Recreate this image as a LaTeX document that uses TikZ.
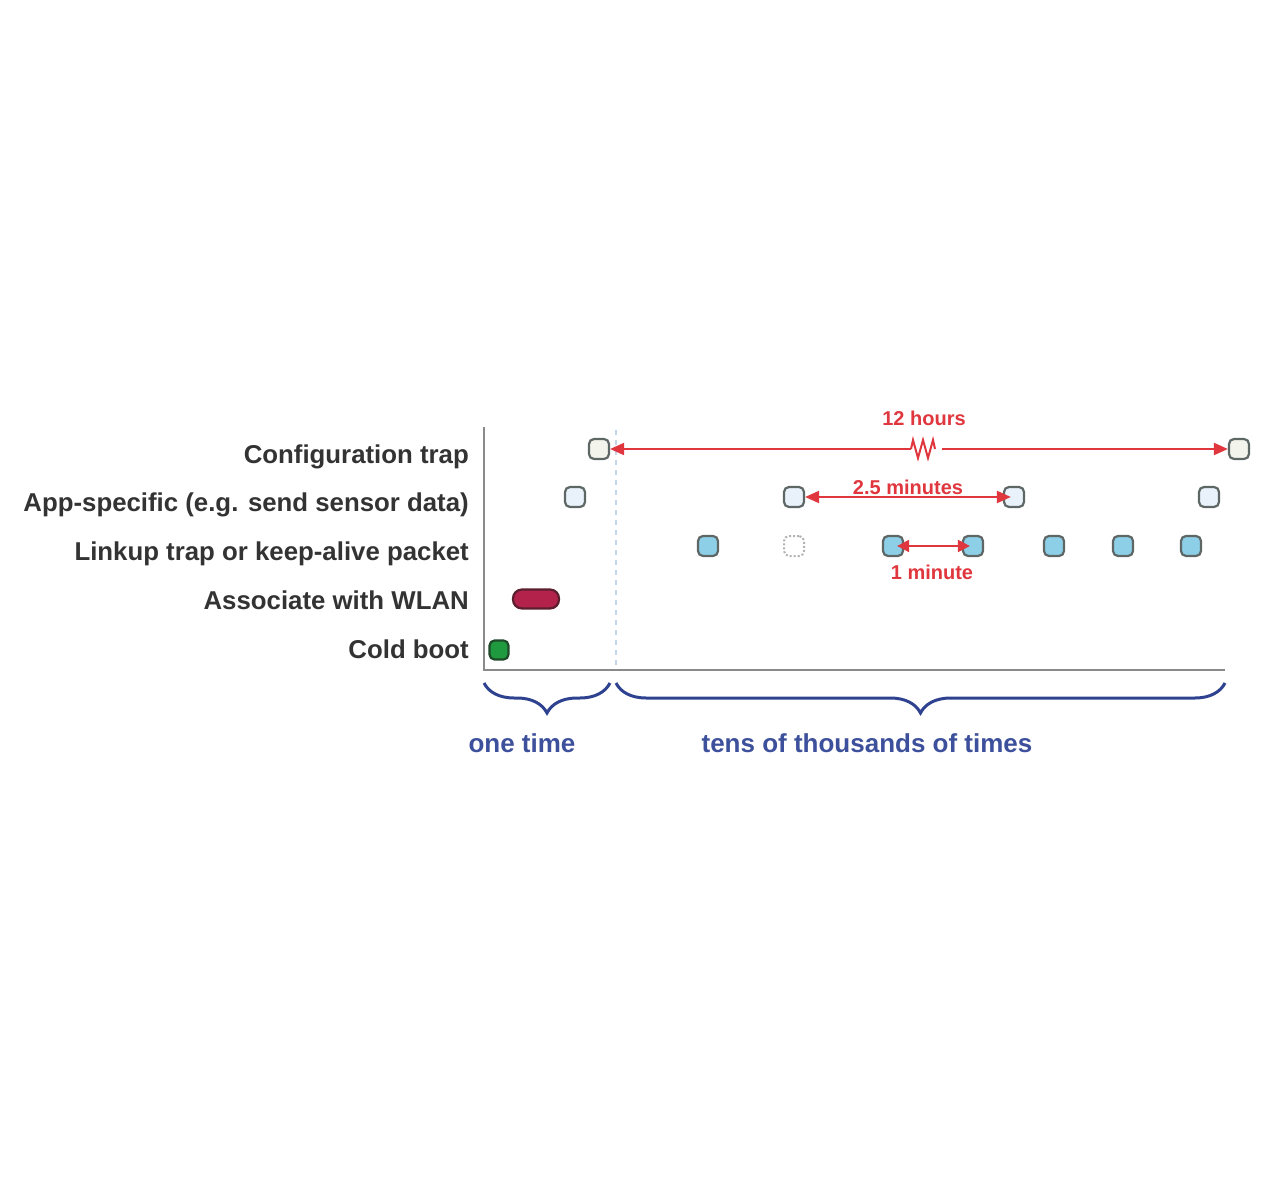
\documentclass[tikz,border=0pt]{standalone}
\usepackage{fontspec}
\setmainfont{Liberation Sans}
\usetikzlibrary{arrows.meta,decorations.pathreplacing}
\definecolor{boxgray}{HTML}{5E6666}
\definecolor{cfgfill}{HTML}{F3F5EC}
\definecolor{appfill}{HTML}{E9F1FA}
\definecolor{linkfill}{HTML}{8CCFE6}
\definecolor{assocfill}{HTML}{B3224A}
\definecolor{assocdraw}{HTML}{5A1E2E}
\definecolor{bootfill}{HTML}{1F9A3F}
\definecolor{bootdraw}{HTML}{1E4A2A}
\definecolor{arrred}{HTML}{E0363E}
\definecolor{lblgray}{HTML}{333333}
\definecolor{braceblue}{HTML}{2E4290}
\definecolor{txtblue}{HTML}{3D509C}
\definecolor{axisgray}{HTML}{8A8A8A}
\definecolor{dashblue}{HTML}{C4D6EA}
\begin{document}
\begin{tikzpicture}[x=1pt,y=-1pt,
  evt/.style={draw=boxgray, line width=2.2pt, rounded corners=5pt, minimum width=20pt, minimum height=20pt, inner sep=0pt},
  cfg/.style={evt, fill=cfgfill},
  app/.style={evt, fill=appfill},
  lnk/.style={evt, fill=linkfill},
  ghost/.style={draw=gray!60, dotted, line width=2pt, rounded corners=5pt, minimum width=20pt, minimum height=20pt, inner sep=0pt},
  rowlabel/.style={anchor=base east, text=lblgray, font=\bfseries\fontsize{25.8}{28}\selectfont, inner sep=0pt},
  redlabel/.style={text=arrred, font=\bfseries\fontsize{20}{23}\selectfont, inner sep=0pt},
  bluelabel/.style={text=txtblue, font=\bfseries\fontsize{26}{28}\selectfont, inner sep=0pt},
  redarr/.style={draw=arrred, line width=2pt},
  bracestyle/.style={draw=braceblue, line width=3pt, decorate, decoration={brace,mirror,amplitude=30pt}},
]
\useasboundingbox (0,0) rectangle (1280,1190);

% row labels
\node[rowlabel] (lcfg) at (469,463) {Configuration trap};
\node[rowlabel] (lapp) at (469,511) {App-specific (e.g. send sensor data)};
\node[rowlabel] (llnk) at (469,560) {Linkup trap or keep-alive packet};
\node[rowlabel] (lasc) at (469,609) {Associate with WLAN};
\node[rowlabel] (lbot) at (469,658) {Cold boot};

% axes and separator
\coordinate (ytop) at (484,427);
\coordinate (orig) at (484,670);
\coordinate (xend) at (1225,670);
\draw[axisgray, line width=2.5pt] (ytop) -- (orig) -- (xend);
\coordinate (sepT) at (616,430);
\coordinate (sepB) at (616,666);
\draw[dashblue, line width=1.5pt, dash pattern=on 5pt off 5pt] (sepT) -- (sepB);

% events
\node[cfg] (C1) at (599,449) {};
\node[cfg] (C2) at (1239,449) {};
\node[app] (A1) at (575,497) {};
\node[app] (A2) at (794,497) {};
\node[app] (A3) at (1014,497) {};
\node[app] (A4) at (1209,497) {};
\node[lnk] (L1) at (708,546) {};
\node[ghost] (L2) at (794,546) {};
\node[lnk] (L3) at (893,546) {};
\node[lnk] (L4) at (973,546) {};
\node[lnk] (L5) at (1054,546) {};
\node[lnk] (L6) at (1123,546) {};
\node[lnk] (L7) at (1191,546) {};
\node[draw=assocdraw, fill=assocfill, line width=2.2pt, rounded corners=9pt, minimum width=46pt, minimum height=19pt, inner sep=0pt] (W) at (536,599) {};
\node[draw=bootdraw, fill=bootfill, line width=2.2pt, rounded corners=5pt, minimum width=19pt, minimum height=19pt, inner sep=0pt] (B) at (499,650) {};

% 12 hours
\coordinate (bkL) at (911,449);
\coordinate (bkR) at (942,449);
\draw[redarr, {Triangle[length=14pt,width=12pt]}-] (C1.east) -- (bkL);
\draw[redarr, line join=miter] (bkL) -- ++(2,-9) -- ++(5,18) -- ++(5,-18) -- ++(5,18) -- ++(5,-18) -- ++(2,9);
\draw[redarr, -{Triangle[length=14pt,width=12pt]}] (bkR) -- (C2.west);
\node[redlabel] (h12) at (924,418) {12 hours};

% 2.5 minutes
\draw[redarr, {Triangle[length=14pt,width=12pt]}-{Triangle[length=14pt,width=12pt]}] (A2.east) -- ([xshift=8pt]A3.west);
\node[redlabel] (m25) at (908,487) {2.5 minutes};

% 1 minute
\draw[redarr, {Triangle[length=12pt,width=12pt]}-{Triangle[length=12pt,width=12pt]}] ([xshift=-7pt]L3.east) -- ([xshift=8pt]L4.west);
\node[redlabel] (m1) at (932,572) {1 minute};

% braces
\coordinate (b1L) at (484,683);
\coordinate (b1R) at (610,683);
\coordinate (b2L) at (616,683);
\coordinate (b2R) at (1225,683);
\draw[bracestyle] (b1L) -- (b1R);
\draw[bracestyle] (b2L) -- (b2R);
\node[bluelabel] (once) at (522,743) {one time};
\node[bluelabel] (many) at (867,743) {tens of thousands of times};
\end{tikzpicture}
\end{document}
